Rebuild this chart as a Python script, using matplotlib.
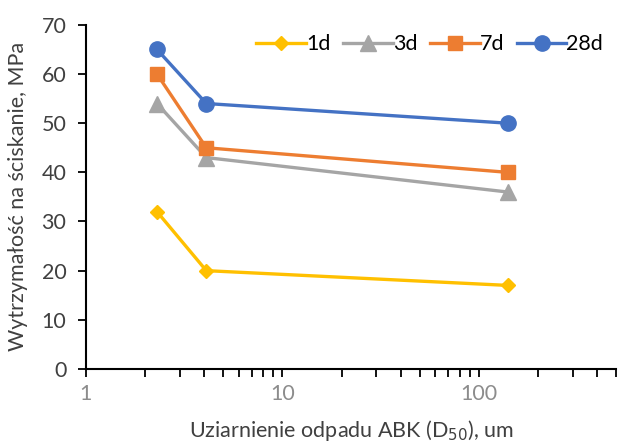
import matplotlib.pyplot as plt
from matplotlib.ticker import LogLocator, FixedLocator, NullFormatter

# uziarnienie odpadu ABK (D50), um
d50 = [2.3, 4.1, 140]

# wytrzymalosc na sciskanie, MPa
r_1d = [32, 20, 17]
r_3d = [54, 43, 36]
r_7d = [60, 45, 40]
r_28d = [65, 54, 50]

plt.rcParams['font.family'] = ['Lato', 'DejaVu Sans']

fig = plt.figure(figsize=(6.18, 4.44), dpi=100)
ax = fig.add_axes([0.139, 0.169, 0.858, 0.775])

ax.plot(d50, r_1d, color='#FFC000', lw=2.4, marker='D', ms=7.5, label='1d')
ax.plot(d50, r_3d, color='#A5A5A5', lw=2.4, marker='^', ms=11, label='3d')
ax.plot(d50, r_7d, color='#ED7D31', lw=2.4, marker='s', ms=10.5, label='7d')
ax.plot(d50, r_28d, color='#4472C4', lw=2.4, marker='o', ms=11, label='28d')

ax.set_xscale('log')
ax.set_xlim(1, 500)
ax.set_ylim(0, 70)
ax.yaxis.set_major_locator(FixedLocator(range(0, 71, 10)))
ax.xaxis.set_major_locator(FixedLocator([1, 10, 100]))
ax.xaxis.set_minor_locator(LogLocator(base=10, subs=range(2, 10)))
ax.xaxis.set_minor_formatter(NullFormatter())
ax.set_xticklabels(['1', '10', '100'])

for s in ['top', 'right']:
    ax.spines[s].set_visible(False)
for s in ['left', 'bottom']:
    ax.spines[s].set_linewidth(1.5)
    ax.spines[s].set_color('black')

ax.tick_params(axis='y', which='major', direction='out', length=6, width=1.3,
               labelsize=15.5, labelcolor='#404040', pad=8)
ax.tick_params(axis='x', which='both', direction='out', length=6, width=1.3,
               labelsize=15.5, labelcolor='#8c8c8c', pad=5)

ax.set_xlabel('Uziarnienie odpadu ABK (D$_{50}$), um', fontsize=15.5,
              color='#404040', labelpad=10)
ax.set_ylabel('Wytrzymałość na ściskanie, MPa', fontsize=15.5,
              color='#404040', labelpad=10)

ax.legend(loc='upper right', bbox_to_anchor=(1.0, 1.01), ncol=4,
          frameon=False, fontsize=15.5, handlelength=2.3, handletextpad=0.0,
          columnspacing=0.6, borderaxespad=0.2)

plt.savefig('out.png', dpi=100)
